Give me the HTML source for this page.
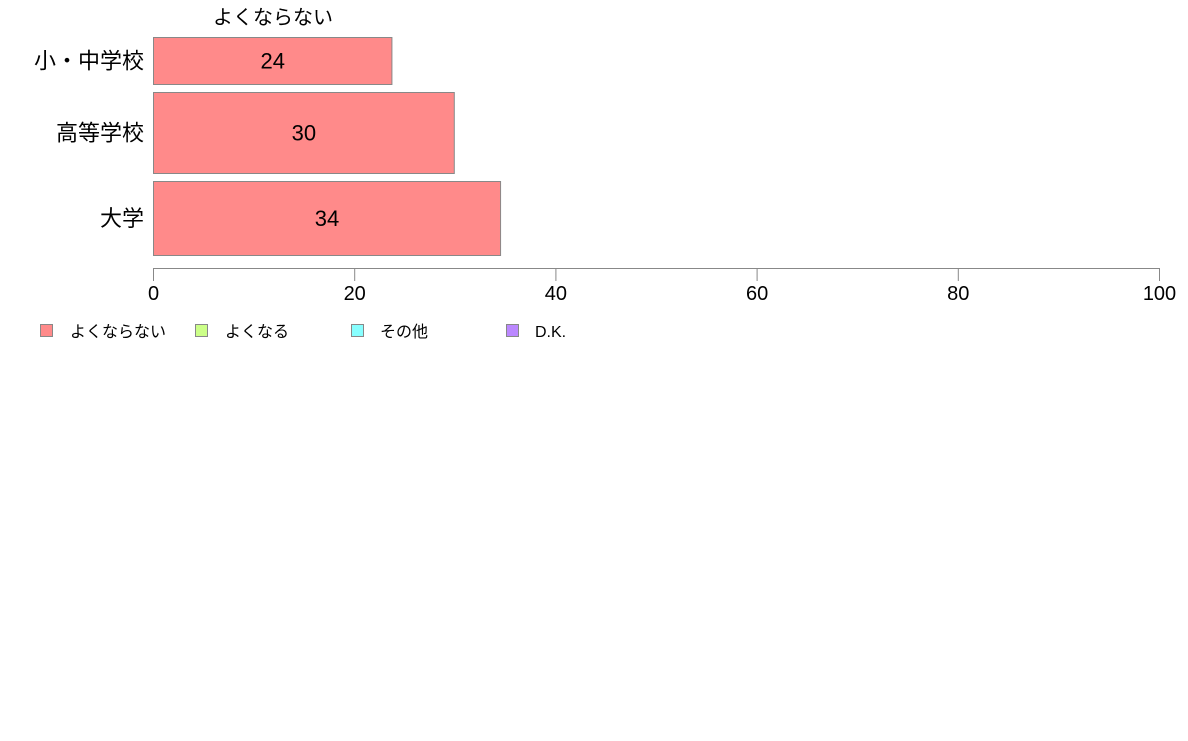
<!DOCTYPE html>
<html><head><meta charset="utf-8"><style>
body{margin:0;background:#fff;width:1188px;height:736px;overflow:hidden;font-family:"Liberation Sans","Noto Sans CJK JP",sans-serif}
</style></head><body>
<svg id="chart" width="1188" height="736" xmlns="http://www.w3.org/2000/svg" font-family="'Liberation Sans','Noto Sans CJK JP',sans-serif">
<text x="273" y="24" font-size="20" text-anchor="middle" fill="#000">よくならない</text>
<g id="bars"></g>
<g id="axis"></g>
<g font-size="16">
<rect x="40.5" y="324.5" width="12" height="12" fill="#ff8a8a" stroke="#888"/>
<text x="70" y="337" fill="#000">よくならない</text>
<rect x="195.5" y="324.5" width="12" height="12" fill="#ccff88" stroke="#888"/>
<text x="225" y="337" fill="#000">よくなる</text>
<rect x="351.5" y="324.5" width="12" height="12" fill="#88ffff" stroke="#888"/>
<text x="380" y="337" fill="#000">その他</text>
<rect x="506.5" y="324.5" width="12" height="12" fill="#bb88ff" stroke="#888"/>
<text x="535" y="337" fill="#000">D.K.</text>
</g>
</svg>
<script>
const categories = ["小・中学校", "高等学校", "大学"];
const values = [23.7, 29.9, 34.5];
const valueLabels = ["24", "30", "34"];
const ticks = [0, 20, 40, 60, 80, 100];
const NS = "http://www.w3.org/2000/svg";
const x0 = 153.5, x1 = 1159.5;
function xScale(v){ return x0 + (v/100)*(x1-x0); }
const rowTop = [37, 92, 181];
const rowH = [47, 81, 74];
const gb = document.getElementById("bars");
categories.forEach((c,i)=>{
  const r = document.createElementNS(NS,"rect");
  
  
  r.setAttribute("x", x0); r.setAttribute("y", rowTop[i]+0.5);
  r.setAttribute("width", xScale(values[i])-x0); r.setAttribute("height", rowH[i]);
  r.setAttribute("fill", "#ff8a8a"); r.setAttribute("stroke", "#888");
  gb.appendChild(r);
  const t = document.createElementNS(NS,"text");
  
  
  t.setAttribute("x", (x0+xScale(values[i]))/2); t.setAttribute("y", rowTop[i]+rowH[i]/2+8);
  t.setAttribute("text-anchor","middle"); t.setAttribute("font-size","22"); t.textContent = valueLabels[i];
  gb.appendChild(t);
  const l = document.createElementNS(NS,"text");
  
  
  l.setAttribute("x", 144); l.setAttribute("y", rowTop[i]+rowH[i]/2+8);
  l.setAttribute("text-anchor","end"); l.setAttribute("font-size","22"); l.textContent = c;
  gb.appendChild(l);
});
const ga = document.getElementById("axis");
const ln = document.createElementNS(NS,"line");


ln.setAttribute("x1", x0); ln.setAttribute("x2", x1); ln.setAttribute("y1", 268.5); ln.setAttribute("y2", 268.5);
ln.setAttribute("stroke","#888");
ga.appendChild(ln);
ticks.forEach(v=>{
  const tk = document.createElementNS(NS,"line");
  
  
  tk.setAttribute("x1", xScale(v)); tk.setAttribute("x2", xScale(v)); tk.setAttribute("y1", 268); tk.setAttribute("y2", 281);
  tk.setAttribute("stroke","#888");
  ga.appendChild(tk);
  const tl = document.createElementNS(NS,"text");
  
  
  tl.setAttribute("x", xScale(v)); tl.setAttribute("y", 300); tl.setAttribute("text-anchor","middle");
  tl.setAttribute("font-size","20"); tl.textContent = v;
  ga.appendChild(tl);
});
</script>
</body></html>
